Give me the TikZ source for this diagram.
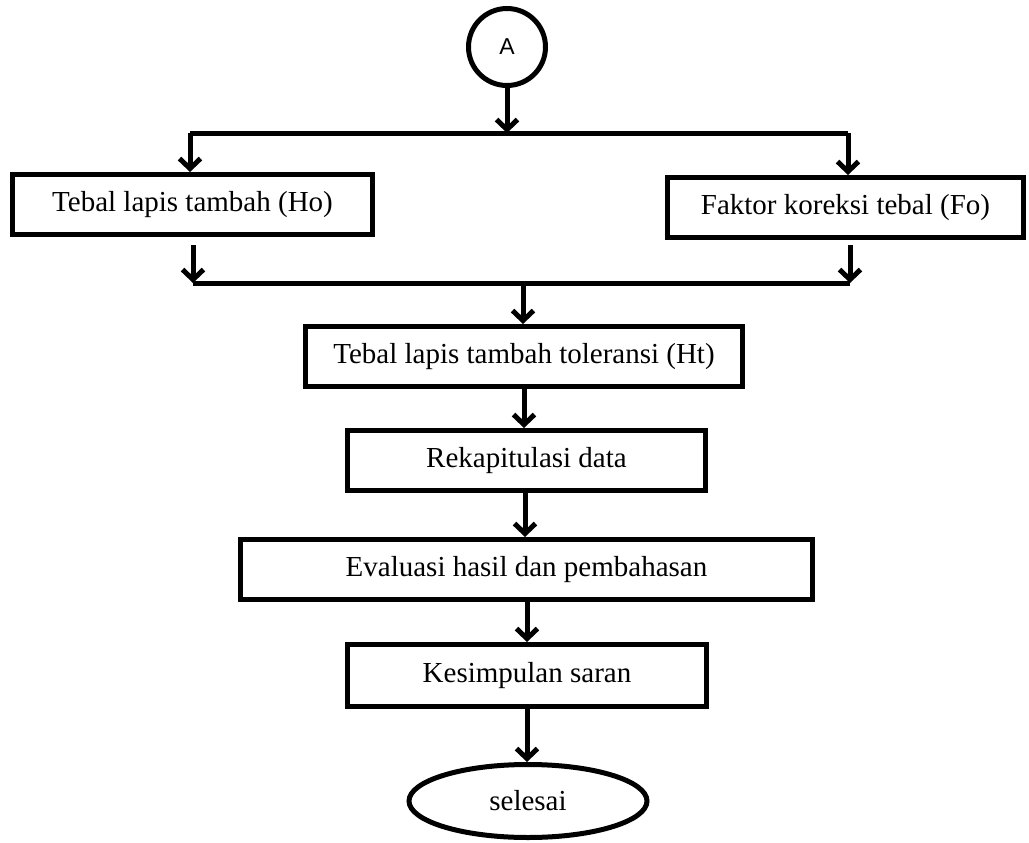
\documentclass[tikz,border=0pt]{standalone}
\usepackage{fontspec}
\setmainfont{Liberation Serif}
\newfontfamily\arialfont{Liberation Sans}
\usetikzlibrary{arrows.meta,shapes.geometric}
\tikzset{
  boxnode/.style={draw, line width=5pt, rectangle, inner sep=0pt, minimum height=60pt,
    font=\fontsize{29}{34}\selectfont},
  conn/.style={line width=5pt},
  arr/.style={line width=5pt, -{Straight Barb[length=10pt,width=21pt]}},
}
\begin{document}
\begin{tikzpicture}[x=1pt,y=-1pt]
\useasboundingbox (0,0) rectangle (1029,843);
\node[draw, circle, line width=5pt, minimum size=77pt, inner sep=0pt,
  font=\arialfont\fontsize{23}{26}\selectfont] (a) at (507,47) {A};
\node[boxnode, minimum width=360pt] (ho) at (192.5,204.5) {\raisebox{-2pt}{Tebal lapis tambah (Ho)}};
\node[boxnode, minimum width=356pt] (fo) at (845.5,207.5) {\raisebox{-2pt}{Faktor koreksi tebal (Fo)}};
\node[boxnode, minimum width=437pt] (ht) at (524,356.5) {\raisebox{-2pt}{Tebal lapis tambah toleransi (Ht)}};
\node[boxnode, minimum width=358pt] (rk) at (526.5,460.5) {\raisebox{-2pt}{Rekapitulasi data}};
\node[boxnode, minimum width=572pt] (ev) at (526.5,569.5) {\raisebox{-2pt}{Evaluasi hasil dan pembahasan}};
\node[boxnode, minimum width=359pt, minimum height=62pt] (ks) at (527,675.5) {\raisebox{-2pt}{Kesimpulan saran}};
\node[draw, ellipse, line width=5pt, minimum width=238pt, minimum height=73pt, inner sep=0pt,
  font=\fontsize{29}{34}\selectfont] (end) at (528,801) {selesai};

\coordinate (tl) at (190,133);
\coordinate (tr) at (848,133);
\coordinate (bl) at (193,245);
\coordinate (bl2) at (193,283);
\coordinate (br) at (850,245);
\coordinate (br2) at (850,283);
\coordinate (mid) at (523,283);

\draw[arr] (a.south) -- (a.south |- tl);
\draw[conn] (tl) -- (tr);
\draw[arr] (tl) -- (tl |- ho.north);
\draw[arr] (tr) -- (tr |- fo.north);
\draw[arr] (bl) -- (bl2);
\draw[arr] (br) -- (br2);
\draw[conn] (bl2) -- (br2);
\draw[arr] (mid) -- (mid |- ht.north);
\draw[arr] (ht.south) -- (ht.south |- rk.north);
\draw[arr] ([xshift=-1.5pt]rk.south) -- ([xshift=-1.5pt]rk.south |- ev.north);
\draw[arr] (ks.north |- ev.south) -- (ks.north);
\draw[arr] (ks.south) -- (ks.south |- end.north);
\end{tikzpicture}
\end{document}
